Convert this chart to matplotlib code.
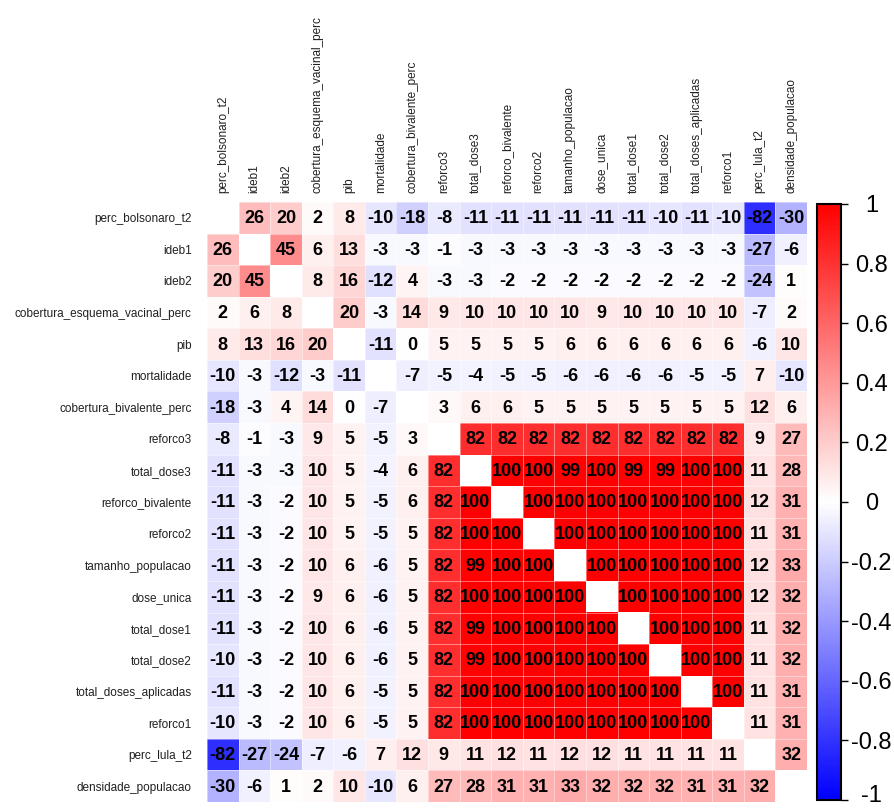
import numpy as np
import matplotlib
matplotlib.use("Agg")
import matplotlib.pyplot as plt
import matplotlib.transforms as mtransforms
from matplotlib.colors import LinearSegmentedColormap, Normalize
from matplotlib.colorbar import ColorbarBase

variables = [
    "perc_bolsonaro_t2", "ideb1", "ideb2", "cobertura_esquema_vacinal_perc",
    "pib", "mortalidade", "cobertura_bivalente_perc", "reforco3",
    "total_dose3", "reforco_bivalente", "reforco2", "tamanho_populacao",
    "dose_unica", "total_dose1", "total_dose2", "total_doses_aplicadas",
    "reforco1", "perc_lula_t2", "densidade_populacao",
]

# correlation coefficients (x100); diagonal left blank
N = None
corr_pct = [
    [N, 26, 20, 2, 8, -10, -18, -8, -11, -11, -11, -11, -11, -11, -10, -11, -10, -82, -30],
    [26, N, 45, 6, 13, -3, -3, -1, -3, -3, -3, -3, -3, -3, -3, -3, -3, -27, -6],
    [20, 45, N, 8, 16, -12, 4, -3, -3, -2, -2, -2, -2, -2, -2, -2, -2, -24, 1],
    [2, 6, 8, N, 20, -3, 14, 9, 10, 10, 10, 10, 9, 10, 10, 10, 10, -7, 2],
    [8, 13, 16, 20, N, -11, 0, 5, 5, 5, 5, 6, 6, 6, 6, 6, 6, -6, 10],
    [-10, -3, -12, -3, -11, N, -7, -5, -4, -5, -5, -6, -6, -6, -6, -5, -5, 7, -10],
    [-18, -3, 4, 14, 0, -7, N, 3, 6, 6, 5, 5, 5, 5, 5, 5, 5, 12, 6],
    [-8, -1, -3, 9, 5, -5, 3, N, 82, 82, 82, 82, 82, 82, 82, 82, 82, 9, 27],
    [-11, -3, -3, 10, 5, -4, 6, 82, N, 100, 100, 99, 100, 99, 99, 100, 100, 11, 28],
    [-11, -3, -2, 10, 5, -5, 6, 82, 100, N, 100, 100, 100, 100, 100, 100, 100, 12, 31],
    [-11, -3, -2, 10, 5, -5, 5, 82, 100, 100, N, 100, 100, 100, 100, 100, 100, 11, 31],
    [-11, -3, -2, 10, 6, -6, 5, 82, 99, 100, 100, N, 100, 100, 100, 100, 100, 12, 33],
    [-11, -3, -2, 9, 6, -6, 5, 82, 100, 100, 100, 100, N, 100, 100, 100, 100, 12, 32],
    [-11, -3, -2, 10, 6, -6, 5, 82, 99, 100, 100, 100, 100, N, 100, 100, 100, 11, 32],
    [-10, -3, -2, 10, 6, -6, 5, 82, 99, 100, 100, 100, 100, 100, N, 100, 100, 11, 32],
    [-11, -3, -2, 10, 6, -5, 5, 82, 100, 100, 100, 100, 100, 100, 100, N, 100, 11, 31],
    [-10, -3, -2, 10, 6, -5, 5, 82, 100, 100, 100, 100, 100, 100, 100, 100, N, 11, 31],
    [-82, -27, -24, -7, -6, 7, 12, 9, 11, 12, 11, 12, 12, 11, 11, 11, 11, N, 32],
    [-30, -6, 1, 2, 10, -10, 6, 27, 28, 31, 31, 33, 32, 32, 32, 31, 31, 32, N],
]

colorbar_ticks = [-1, -0.8, -0.6, -0.4, -0.2, 0, 0.2, 0.4, 0.6, 0.8, 1]
colorbar_ticklabels = ["-1", "-0.8", "-0.6", "-0.4", "-0.2", "0",
                       "0.2", "0.4", "0.6", "0.8", "1"]

plt.rcParams["font.family"] = ["Liberation Sans", "DejaVu Sans"]

W, H = 895, 808
fig = plt.figure(figsize=(W / 100, H / 100), dpi=100)

# heatmap area in pixels
gx0, gx1, gy0, gy1 = 207, 807, 202, 802
ax = fig.add_axes([gx0 / W, 1 - gy1 / H, (gx1 - gx0) / W, (gy1 - gy0) / H])

cmap = LinearSegmentedColormap.from_list("bwr_corr", ["#0000FF", "#FFFFFF", "#FF0000"], N=256)
cmap.set_bad("white")
norm = Normalize(vmin=-1, vmax=1)

n = len(variables)
mat = np.array([[np.nan if v is None else v / 100 for v in row] for row in corr_pct], dtype=float)
masked = np.ma.masked_invalid(mat)

ax.imshow(masked, cmap=cmap, norm=norm, interpolation="nearest",
          extent=(-0.5, n - 0.5, n - 0.5, -0.5), aspect="auto")

# faint white cell grid
for k in range(n + 1):
    ax.axhline(k - 0.5, color="white", lw=0.5, alpha=0.6)
    ax.axvline(k - 0.5, color="white", lw=0.5, alpha=0.6)

for i in range(n):
    for j in range(n):
        v = corr_pct[i][j]
        if v is None:
            continue
        ax.text(j, i + 0.03, f"{v}", ha="center", va="center",
                fontsize=13, fontweight="bold", color="black")

ax.set_xlim(-0.5, n - 0.5)
ax.set_ylim(n - 0.5, -0.5)
ax.set_xticks(range(n))
ax.set_yticks(range(n))
ax.set_xticklabels(variables, rotation=90, fontsize=8.5, color="#202020")
ax.set_yticklabels(variables, fontsize=8.5, color="#202020")
ax.xaxis.tick_top()
ax.tick_params(axis="x", length=0, pad=6.5)
ax.tick_params(axis="y", length=0, pad=11)
for s in ax.spines.values():
    s.set_visible(False)

# colour legend
cx0, cx1, cy0, cy1 = 817, 841, 204, 800
cax = fig.add_axes([cx0 / W, 1 - cy1 / H, (cx1 - cx0) / W, (cy1 - cy0) / H])
cb = ColorbarBase(cax, cmap=cmap, norm=norm, orientation="vertical")
cb.set_ticks(colorbar_ticks)
cb.set_ticklabels(colorbar_ticklabels)
cb.outline.set_linewidth(1.5)
cb.outline.set_edgecolor("black")
cax.tick_params(labelsize=17, length=5, width=1, pad=17, color="black")
labels = cax.get_yticklabels()
for lbl in labels:
    lbl.set_horizontalalignment("center")
# lift the bottom label slightly so it stays inside the canvas
shift = mtransforms.ScaledTranslation(0, 5 / 72, fig.dpi_scale_trans)
labels[0].set_transform(labels[0].get_transform() + shift)

fig.savefig("out.png", dpi=100)
